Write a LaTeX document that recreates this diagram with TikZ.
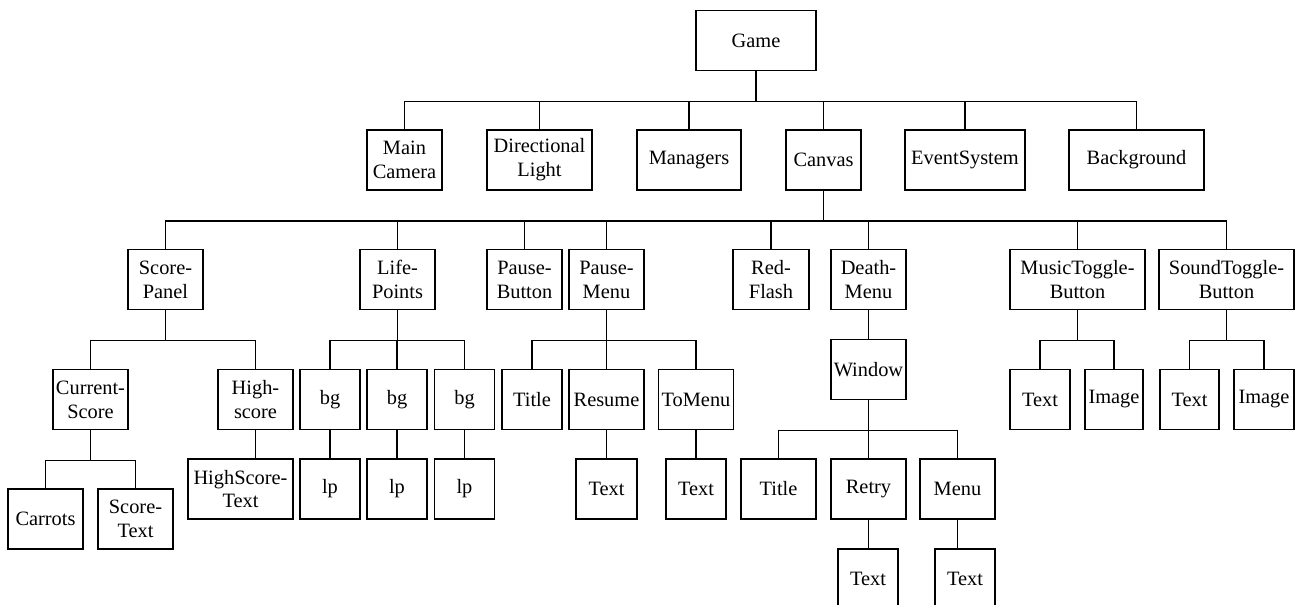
\documentclass[tikz,border=0pt]{standalone}
\usepackage{fontspec}
\setmainfont{Liberation Serif}
\usepackage{tikz}

\tikzset{
  box/.style={draw, line width=1.1pt, align=center, inner sep=1pt,
    minimum height=60*0.02cm, font=\fontsize{11.6}{13.6}\selectfont},
  wd/.style={minimum width=#1*0.02cm},
  link/.style={line width=1.1pt}
}

\begin{document}
\begin{tikzpicture}[x=0.02cm, y=-0.02cm]
  \useasboundingbox (0,0) rectangle (1302,605);
  % Scene hierarchy of the game
  \node[box, wd=120] (game) at (756,40.5) {Game};

  \node[box, wd=75]  (maincam)  at (404.5,160) {Main\\Camera};
  \node[box, wd=105] (dirlight) at (539.5,160) {Directional\\Light};
  \node[box, wd=104] (managers) at (689,160)   {Managers};
  \node[box, wd=75]  (canvas)   at (823.5,160) {Canvas};
  \node[box, wd=120] (events)   at (965,160)   {EventSystem};
  \node[box, wd=135] (backgr)   at (1136.5,160) {Background};

  \node[box, wd=75]  (scorepanel) at (165.5,279.5) {Score-\\Panel};
  \node[box, wd=75]  (lifepts)    at (397.5,279.5) {Life-\\Points};
  \node[box, wd=75]  (pausebtn)   at (524.5,279.5) {Pause-\\Button};
  \node[box, wd=75]  (pausemenu)  at (606.5,279.5) {Pause-\\Menu};
  \node[box, wd=76]  (redflash)   at (771,279.5)   {Red-\\Flash};
  \node[box, wd=75]  (deathmenu)  at (868.5,279.5) {Death-\\Menu};
  \node[box, wd=135] (musictgl)   at (1077.5,279.5) {MusicToggle-\\Button};
  \node[box, wd=135] (soundtgl)   at (1226.5,279.5) {SoundToggle-\\Button};

  % score panel
  \node[box, wd=75]  (curscore)  at (90.5,399.5)  {Current-\\Score};
  \node[box, wd=75]  (highscore) at (255.5,399.5) {High-\\score};
  \node[box, wd=75]  (carrots)   at (45.5,519)    {Carrots};
  \node[box, wd=75]  (scoretxt)  at (135.5,519)   {Score-\\Text};
  \node[box, wd=105] (hstxt)     at (240.5,489)   {HighScore-\\Text};

  % life points
  \node[box, wd=60] (bgA) at (330,399.5)   {bg};
  \node[box, wd=60] (bgB) at (397,399.5)   {bg};
  \node[box, wd=60] (bgC) at (464.5,399.5) {bg};
  \node[box, wd=60] (lpA) at (330,489)     {lp};
  \node[box, wd=60] (lpB) at (397,489)     {lp};
  \node[box, wd=60] (lpC) at (464.5,489)   {lp};

  % pause menu
  \node[box, wd=60] (ptitle)    at (532,399.5)   {Title};
  \node[box, wd=75] (resume)    at (606.5,399.5) {Resume};
  \node[box, wd=75] (tomenu)    at (696,399.5)   {ToMenu};
  \node[box, wd=61] (resumetxt) at (606.5,489)   {Text};
  \node[box, wd=60] (tomenutxt) at (696,489)     {Text};

  % death menu
  \node[box, wd=75] (window)   at (868.5,369.5) {Window};
  \node[box, wd=75] (dtitle)   at (778.5,489)   {Title};
  \node[box, wd=75] (retry)    at (868.5,489)   {Retry};
  \node[box, wd=75] (dmenu)    at (957.5,489)   {Menu};
  \node[box, wd=60] (retrytxt) at (868,579)     {Text};
  \node[box, wd=60] (dmenutxt) at (965,579)     {Text};

  % toggle buttons
  \node[box, wd=60] (mtxt) at (1040,399.5)   {Text};
  \node[box, wd=58] (mimg) at (1114,399.5)   {Image};
  \node[box, wd=59] (stxt) at (1189.5,399.5) {Text};
  \node[box, wd=60] (simg) at (1264,399.5)   {Image};

  % connectors
  \foreach \c in {maincam,dirlight,managers,canvas,events,backgr}
    \draw[link] (game.south) -- ++(0,30) -| (\c.north);
  \foreach \c in {scorepanel,lifepts,pausebtn,pausemenu,redflash,deathmenu,musictgl,soundtgl}
    \draw[link] (canvas.south) -- ++(0,30) -| (\c.north);
  \foreach \c in {curscore,highscore}
    \draw[link] (scorepanel.south) -- ++(0,30) -| (\c.north);
  \foreach \c in {carrots,scoretxt}
    \draw[link] (curscore.south) -- ++(0,30) -| (\c.north);
  \draw[link] (highscore.south) -- (highscore.south |- hstxt.north);
  \foreach \c in {bgA,bgB,bgC}
    \draw[link] (lifepts.south) -- ++(0,30) -| (\c.north);
  \draw[link] (bgA) -- (lpA);
  \draw[link] (bgB) -- (lpB);
  \draw[link] (bgC) -- (lpC);
  \foreach \c in {ptitle,resume,tomenu}
    \draw[link] (pausemenu.south) -- ++(0,30) -| (\c.north);
  \draw[link] (resume) -- (resumetxt);
  \draw[link] (tomenu) -- (tomenutxt);
  \draw[link] (deathmenu) -- (window);
  \foreach \c in {dtitle,retry,dmenu}
    \draw[link] (window.south) -- ++(0,30) -| (\c.north);
  \draw[link] (retry.south) -- (retry.south |- retrytxt.north);
  \draw[link] (dmenu.south) -- (dmenu.south |- dmenutxt.north);
  \foreach \c in {mtxt,mimg}
    \draw[link] (musictgl.south) -- ++(0,30) -| (\c.north);
  \foreach \c in {stxt,simg}
    \draw[link] (soundtgl.south) -- ++(0,30) -| (\c.north);
\end{tikzpicture}
\end{document}
